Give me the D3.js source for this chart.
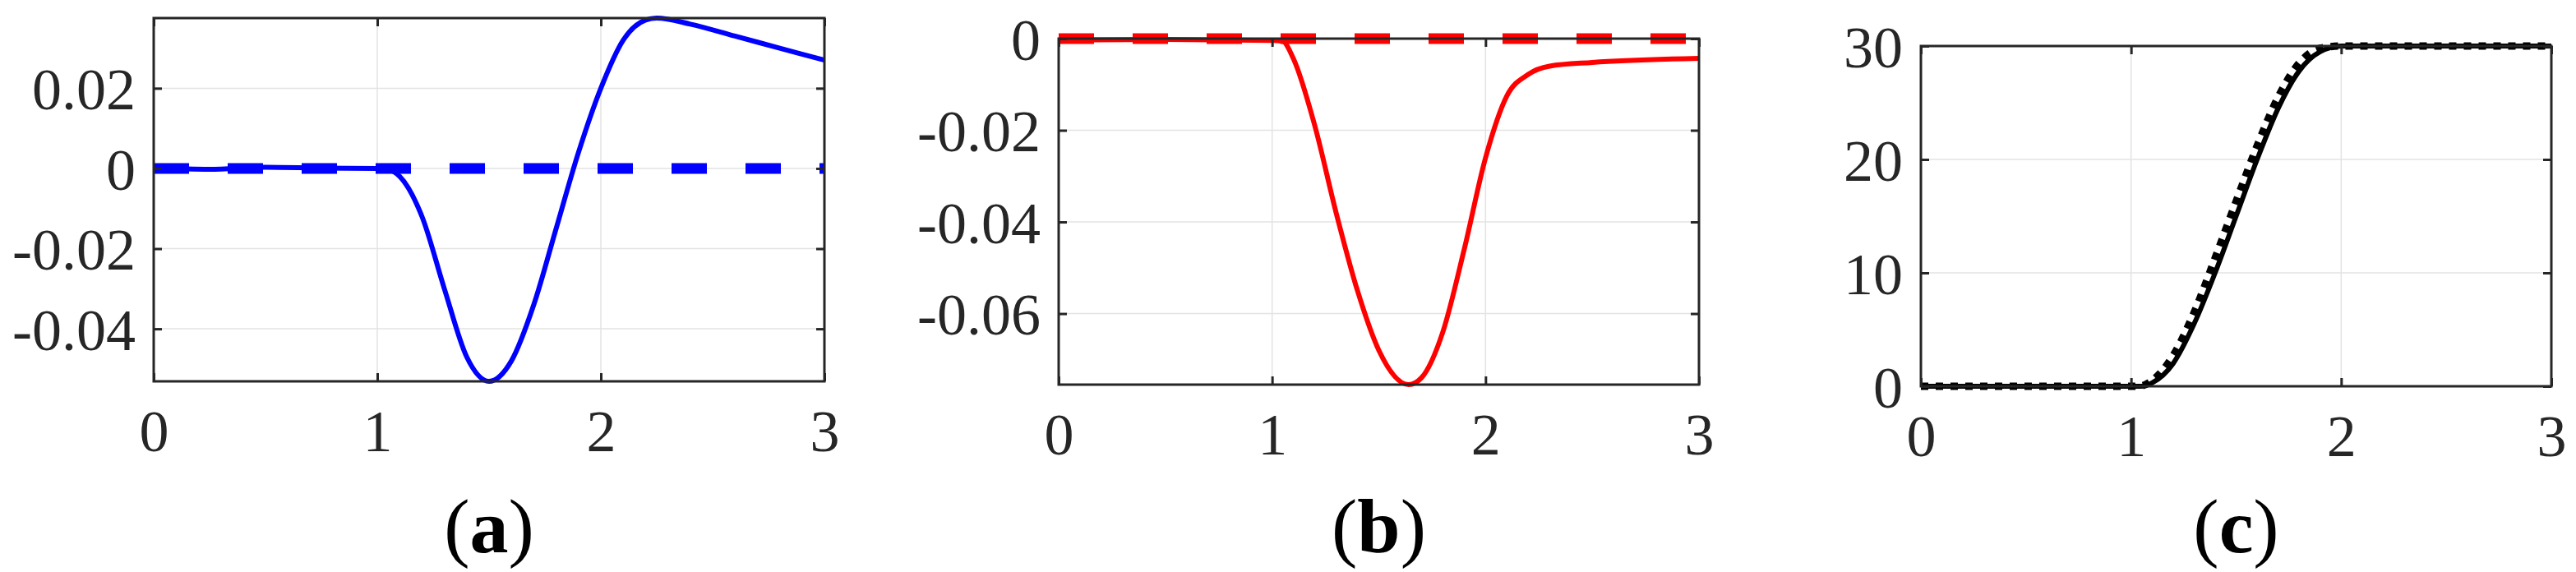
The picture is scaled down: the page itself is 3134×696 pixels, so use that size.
<!DOCTYPE html>
<html>
<head>
<meta charset="utf-8">
<script src="https://cdn.jsdelivr.net/npm/d3@7"></script>
<style>
  body { margin: 0; background: #fff; }
  text { font-family: "Liberation Serif", "DejaVu Serif", serif; fill: #262626; }
</style>
</head>
<body>
<div id="viz"></div>
<script>
var W = 3134, H = 696;

// panel (a)
var tA = [0, 0.25, 0.5, 0.75, 1.0, 1.05, 1.1, 1.2, 1.3, 1.4, 1.5, 1.6, 1.7, 1.8, 1.9, 2.0, 2.1, 2.2, 2.25, 2.4, 2.6, 2.8, 3.0];
var eA = [0.0002, -0.0002, 0.0003, 0.0001, 0.0, -0.0003, -0.002, -0.012, -0.03, -0.047, -0.0531, -0.048, -0.034, -0.015, 0.004, 0.020, 0.032, 0.0370, 0.0375, 0.036, 0.033, 0.030, 0.027];

// panel (b)
var tB = [0, 0.5, 1.0, 1.05, 1.1, 1.2, 1.3, 1.4, 1.5, 1.64, 1.7, 1.8, 1.9, 2.0, 2.1, 2.2, 2.3, 2.5, 3.0];
var eB = [-0.0003, -0.0002, -0.0004, -0.0006, -0.0044, -0.019, -0.038, -0.055, -0.068, -0.0755, -0.074, -0.064, -0.046, -0.026, -0.0125, -0.0078, -0.006, -0.0052, -0.0043];

// panel (c)
var tC = [0, 0.5, 1.0, 1.05, 1.1, 1.2, 1.3, 1.4, 1.5, 1.6, 1.7, 1.8, 1.9, 2.0, 2.5, 3.0];
var yC = [0, 0, 0, 0, 0.3, 2, 5.5, 10, 15, 20, 24.5, 27.8, 29.5, 30, 30, 30];
var rC = [0, 0, 0, 0.05, 0.5, 2.7, 6.5, 11.3, 16.3, 21.2, 25.5, 28.5, 29.8, 30, 30, 30];

var xTicks = [0, 1, 2, 3];
var panels = [
  { box: [187, 22, 1003, 464], yDom: [-0.0531, 0.0375], yTicks: [-0.04, -0.02, 0, 0.02], cap: "a",
    lines: [{ t: tA, v: eA, color: "#0000ff", w: 6 },
            { t: tA, v: tA.map(function(){ return 0; }), color: "#0000ff", w: 13, dash: "43,47" }] },
  { box: [1288, 47, 2067, 468], yDom: [-0.0755, 0], yTicks: [-0.06, -0.04, -0.02, 0], cap: "b",
    lines: [{ t: tB, v: eB, color: "#ff0000", w: 6 },
            { t: tB, v: tB.map(function(){ return 0; }), color: "#ff0000", w: 13, dash: "43,47" }] },
  { box: [2337, 56, 3104, 470], yDom: [0, 30], yTicks: [0, 10, 20, 30], cap: "c",
    lines: [{ t: tC, v: yC, color: "#000000", w: 6 },
            { t: tC, v: rC, color: "#000000", w: 9, dash: "9,9" }] }
];

var svg = d3.select("#viz").append("svg").attr("width", W).attr("height", H);

panels.forEach(function(p) {
  var x = d3.scaleLinear().domain([0, 3]).range([p.box[0], p.box[2]]);
  var y = d3.scaleLinear().domain(p.yDom).range([p.box[3], p.box[1]]);
  var g = svg.append("g");

  // grid
  g.selectAll(".gx").data(xTicks).enter().append("line")
    .attr("x1", x).attr("x2", x).attr("y1", p.box[1]).attr("y2", p.box[3])
    .style("stroke", "#e3e3e3").style("stroke-width", 1.5);
  g.selectAll(".gy").data(p.yTicks).enter().append("line")
    .attr("y1", y).attr("y2", y).attr("x1", p.box[0]).attr("x2", p.box[2])
    .style("stroke", "#e3e3e3").style("stroke-width", 1.5);

  // lines
  p.lines.forEach(function(L) {
    var pts = L.t.map(function(t, i){ return [t, L.v[i]]; });
    g.append("path").datum(pts)
      .attr("d", d3.line().x(function(d){ return x(d[0]); }).y(function(d){ return y(d[1]); }).curve(d3.curveMonotoneX))
      .style("fill", "none").style("stroke", L.color).style("stroke-width", L.w)
      .style("stroke-dasharray", L.dash || null);
  });

  // frame
  g.append("rect").attr("x", p.box[0]).attr("y", p.box[1])
    .attr("width", p.box[2] - p.box[0]).attr("height", p.box[3] - p.box[1])
    .style("fill", "none").style("stroke", "#262626").style("stroke-width", 3);

  // axes with inward ticks
  var fmt = function(d){ return d === 0 ? "0" : String(d); };
  var ax = g.append("g").attr("transform", "translate(0," + p.box[3] + ")")
    .call(d3.axisBottom(x).tickValues(xTicks).tickSize(-10).tickPadding(34).tickFormat(fmt));
  var ax2 = g.append("g").attr("transform", "translate(0," + p.box[1] + ")")
    .call(d3.axisTop(x).tickValues(xTicks).tickSize(-10).tickFormat(""));
  var ay = g.append("g").attr("transform", "translate(" + p.box[0] + ",0)")
    .call(d3.axisLeft(y).tickValues(p.yTicks).tickSize(-10).tickPadding(22).tickFormat(fmt));
  var ay2 = g.append("g").attr("transform", "translate(" + p.box[2] + ",0)")
    .call(d3.axisRight(y).tickValues(p.yTicks).tickSize(-10).tickFormat(""));
  [ax, ax2, ay, ay2].forEach(function(a) {
    a.select(".domain").remove();
    a.selectAll(".tick line").style("stroke", "#262626").style("stroke-width", 3);
    a.selectAll("text").style("font-size", "72px").style("font-family", "Liberation Serif").style("fill", "#262626");
  });
  ay.selectAll("text").attr("dy", "0.35em");

  // caption
  var cx = (p.box[0] + p.box[2]) / 2;
  var cap = g.append("text").attr("x", cx).attr("y", 672).attr("text-anchor", "middle")
    .style("font-size", "94px").style("fill", "#000");
  cap.append("tspan").text("(");
  cap.append("tspan").style("font-weight", "bold").text(p.cap);
  cap.append("tspan").text(")");
});
</script>
</body>
</html>
